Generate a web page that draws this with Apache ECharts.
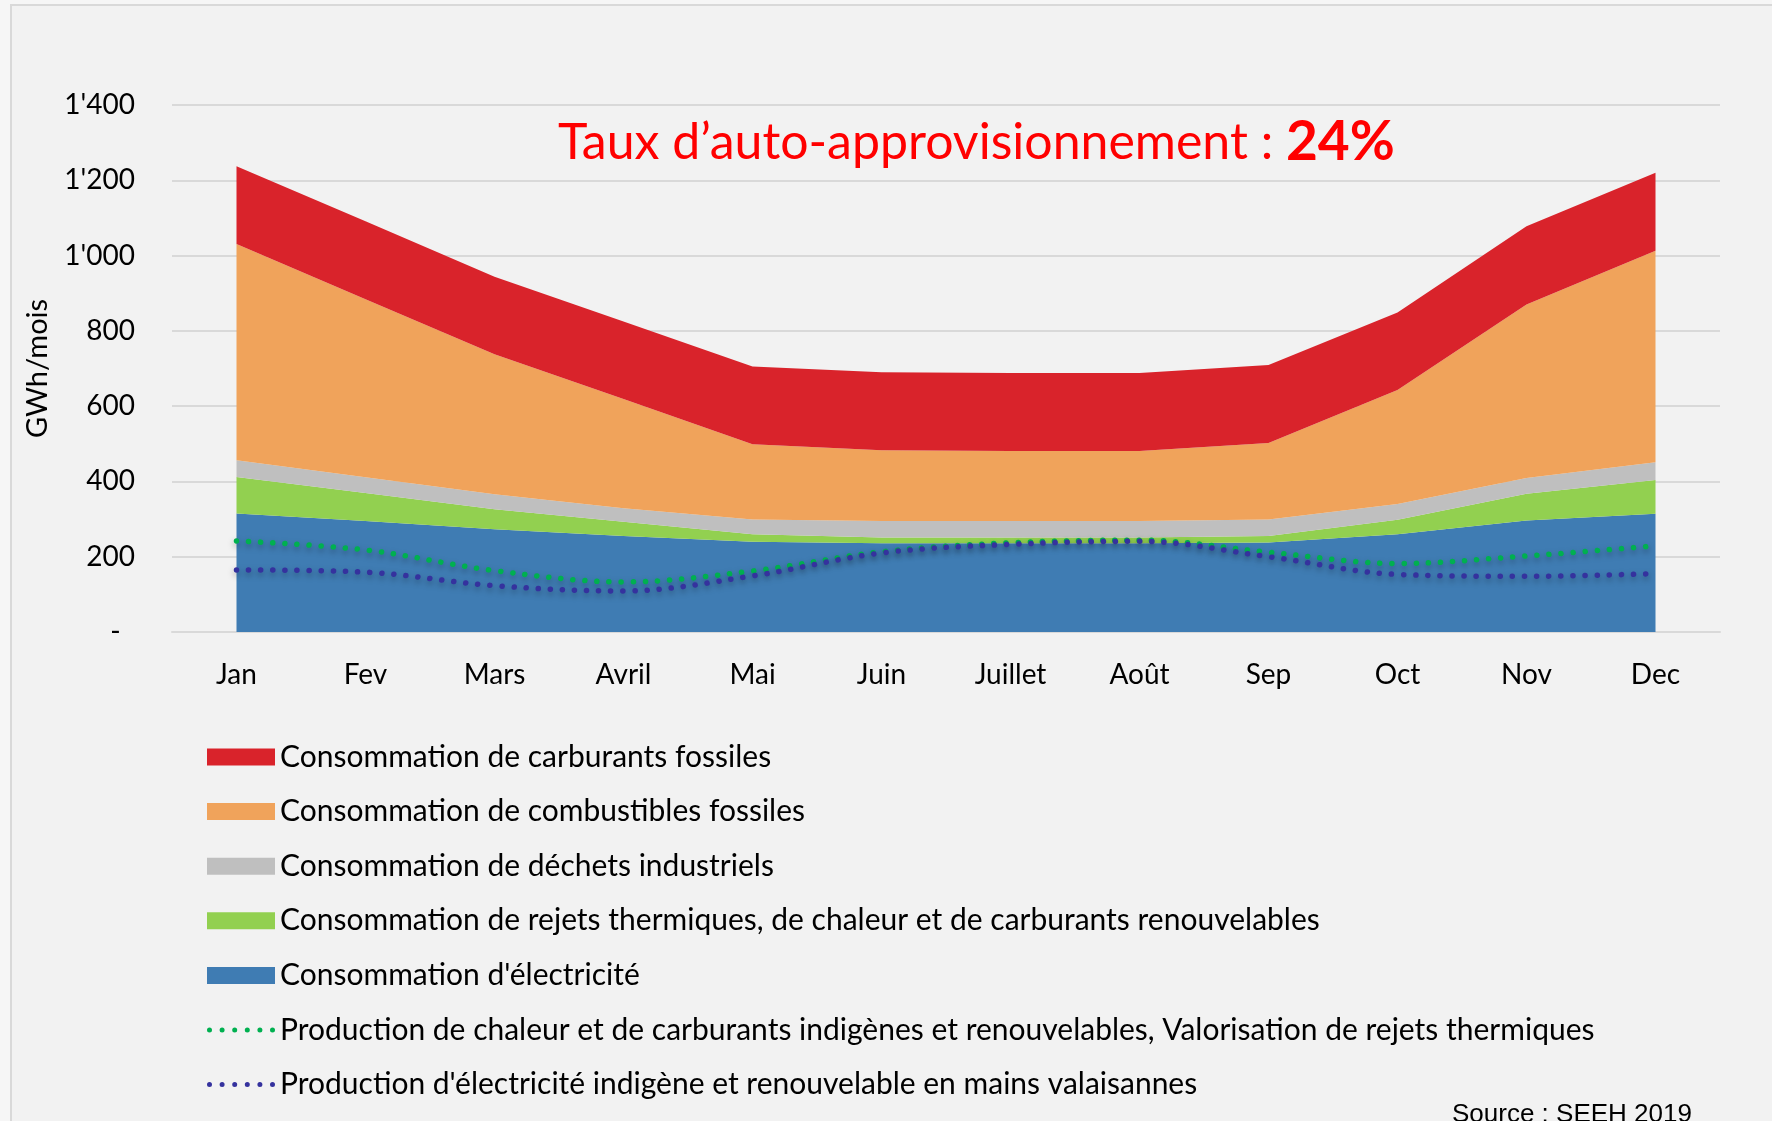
<!DOCTYPE html>
<html>
<head>
<meta charset="utf-8">
<script src="https://cdn.jsdelivr.net/npm/echarts@6/dist/echarts.min.js"></script>
<style>
  html, body { margin: 0; padding: 0; background: #f6f6f6; }
  #chart { width: 1772px; height: 1121px; }
</style>
</head>
<body>
<div id="chart"></div>
<script>
// mois
const months = ['Jan', 'Fev', 'Mars', 'Avril', 'Mai', 'Juin', 'Juillet', 'Août', 'Sep', 'Oct', 'Nov', 'Dec']

// consommation (GWh/mois), empilée du bas vers le haut
const electricite = [315, 295, 273, 255, 240, 236, 236, 236, 238, 260, 296, 314]
const rejetsRenouv = [97, 74, 53, 38, 20, 15, 15, 15, 17, 38, 71, 90]
const dechets = [44, 42, 40, 36, 39, 44, 44, 44, 44, 42, 42, 47]
const combustibles = [575, 473, 372, 290, 200, 188, 186, 186, 203, 303, 461, 562]
const carburants = [206, 207, 206, 206, 206, 207, 207, 207, 207, 206, 208, 207]

// production indigène
const prodChaleur = [242, 218, 163, 133, 162, 213, 237, 244, 212, 182, 202, 229]
const prodElec = [165, 159, 123, 109, 149, 210, 233, 241, 200, 153, 148, 155]

const yTicks = { min: 0, max: 1400, interval: 200 }

const names = {
  carburants: 'Consommation de carburants fossiles',
  combustibles: 'Consommation de combustibles fossiles',
  dechets: 'Consommation de déchets industriels',
  rejets: 'Consommation de rejets thermiques, de chaleur et de carburants renouvelables',
  elec: "Consommation d'électricité",
  prodChaleur: 'Production de chaleur et de carburants indigènes et renouvelables, Valorisation de rejets thermiques',
  prodElec: "Production d'électricité indigène et renouvelable en mains valaisannes"
}

const font = 'Lato'

// petite icône pointillée pour la légende (6 points)
let dots = ''
for (let k = 0; k < 6; k++) {
  const cx = 2.5 + k * 12.6
  dots += `M${cx - 2.5},2.5 a2.5,2.5 0 1,0 5,0 a2.5,2.5 0 1,0 -5,0 `
}
const dotIcon = 'path://' + dots

const chart = echarts.init(document.getElementById('chart'))

const areaSeries = (name, data, color) => ({
  name,
  type: 'line',
  stack: 'conso',
  data,
  symbol: 'none',
  lineStyle: { width: 0 },
  areaStyle: { color, opacity: 1 },
  itemStyle: { color },
  emphasis: { disabled: true }
})

const dotSeries = (name, data, color) => ({
  name,
  type: 'line',
  data,
  smooth: 0.35,
  symbol: 'none',
  z: 5,
  itemStyle: { color },
  lineStyle: {
    color,
    width: 5.5,
    type: [0.1, 12],
    cap: 'round',
    shadowColor: 'rgba(0, 0, 0, 0.35)',
    shadowBlur: 6,
    shadowOffsetY: 3
  },
  emphasis: { disabled: true }
})

const option = {
  animation: false,
  backgroundColor: 'transparent',
  textStyle: { fontFamily: font },
  graphic: [
    {
      type: 'rect',
      z: -10,
      shape: { x: 11, y: 5, width: 1900, height: 1300 },
      style: { fill: '#f2f2f2', stroke: '#d9d9d9', lineWidth: 2 }
    },
    {
      type: 'text',
      left: 1452,
      top: 1102,
      style: { text: 'Source : SEEH 2019', font: '26px "Liberation Sans"', fill: '#000' }
    }
  ],
  title: {
    left: 553,
    top: 110,
    text: '{a|Taux d’auto-approvisionnement : }{b|24%}',
    textStyle: {
      rich: {
        a: { fontFamily: font, fontSize: 50, fontWeight: 'normal', color: '#ff0000' },
        b: { fontFamily: font, fontSize: 55, fontWeight: 'bold', color: '#ff0000' }
      }
    }
  },
  legend: {
    orient: 'vertical',
    left: 202,
    top: 737,
    itemWidth: 68,
    itemHeight: 17,
    itemGap: 24.6,
    textStyle: { fontFamily: font, fontSize: 30, color: '#000', lineHeight: 30 },
    data: [
      { name: names.carburants, icon: 'rect' },
      { name: names.combustibles, icon: 'rect' },
      { name: names.dechets, icon: 'rect' },
      { name: names.rejets, icon: 'rect' },
      { name: names.elec, icon: 'rect' },
      { name: names.prodChaleur, icon: dotIcon },
      { name: names.prodElec, icon: dotIcon }
    ]
  },
  grid: { left: 172, right: 52, top: 105, bottom: 489 },
  xAxis: {
    type: 'category',
    data: months,
    axisLine: { lineStyle: { color: '#d9d9d9', width: 2 } },
    axisTick: { length: 12, lineStyle: { color: '#d9d9d9', width: 2 } },
    axisLabel: { color: '#000', fontFamily: font, fontSize: 28, margin: 29 }
  },
  yAxis: {
    type: 'value',
    min: yTicks.min,
    max: yTicks.max,
    interval: yTicks.interval,
    name: 'GWh/mois',
    nameLocation: 'middle',
    nameGap: 120,
    nameTextStyle: { color: '#000', fontFamily: font, fontSize: 29 },
    axisLine: { show: false },
    axisTick: { show: false },
    splitLine: { lineStyle: { color: '#d9d9d9', width: 2 } },
    axisLabel: {
      color: '#000',
      fontFamily: font,
      fontSize: 28,
      margin: 37,
      formatter: v => v === 0 ? '-\u00a0\u00a0' : String(v).replace(/\B(?=(\d{3})+(?!\d))/g, "'")
    }
  },
  series: [
    areaSeries(names.elec, electricite, '#3f7cb3'),
    areaSeries(names.rejets, rejetsRenouv, '#92d050'),
    areaSeries(names.dechets, dechets, '#bfbfbf'),
    areaSeries(names.combustibles, combustibles, '#f0a35b'),
    areaSeries(names.carburants, carburants, '#d9232b'),
    dotSeries(names.prodChaleur, prodChaleur, '#00b050'),
    dotSeries(names.prodElec, prodElec, '#35329e')
  ]
}

chart.setOption(option)
</script>
</body>
</html>
